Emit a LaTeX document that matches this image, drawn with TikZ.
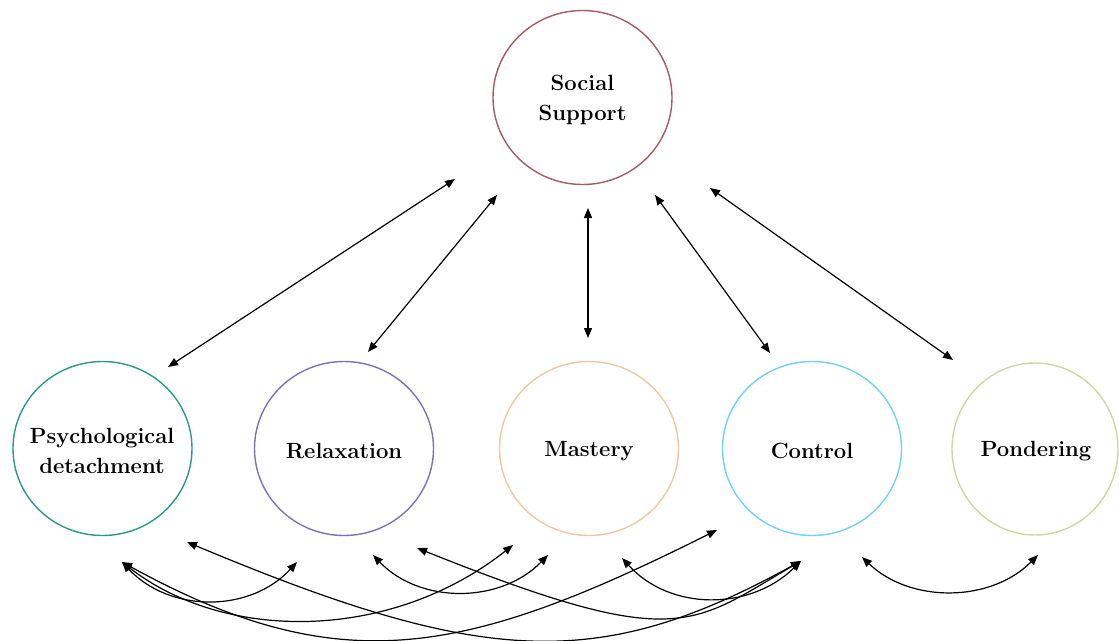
\documentclass[tikz,border=0pt]{standalone}
\usetikzlibrary{arrows.meta,shapes.geometric}
\definecolor{ssc}{RGB}{165,90,100}
\definecolor{pdc}{RGB}{40,155,135}
\definecolor{rxc}{RGB}{120,115,185}
\definecolor{msc}{RGB}{240,200,160}
\definecolor{ctc}{RGB}{110,210,250}
\definecolor{pnc}{RGB}{205,215,160}
\tikzset{
  bub/.style={ellipse,draw,line width=1.4pt,minimum width=179pt,minimum height=174pt,inner sep=0pt},
  lab/.style={inner sep=0pt,align=center,font=\fontsize{22}{30}\selectfont\bfseries},
  link/.style={line width=1.2pt,{Triangle[length=10pt,width=8pt]}-{Triangle[length=10pt,width=8pt]}}
}
\begin{document}
\begin{tikzpicture}[x=1pt,y=-1pt]
\useasboundingbox (0,0) rectangle (1119,640);
\node[bub,draw=ssc] (ss) at (582.5,97.5) {};
\node[bub,draw=pdc] (pd) at (102.5,448.5) {};
\node[bub,draw=rxc] (rx) at (344,448.5) {};
\node[bub,draw=msc] (ms) at (589,448.5) {};
\node[bub,draw=ctc] (ct) at (812,448.5) {};
\node[bub,draw=pnc,minimum width=166pt,minimum height=172pt] (pn) at (1035,449) {};
\node[lab] (ssT) at (582.5,100) {Social\\Support};
\node[lab] (pdT) at (102,451) {Psychological\\detachment};
\node[lab] (rxT) at (344,451) {Relaxation};
\node[lab] (msT) at (589,451) {Mastery};
\node[lab] (ctT) at (812,451) {Control};
\node[lab] (pnT) at (1036,451) {Pondering};
% straight connector ends
\coordinate (s1) at (455,179); \coordinate (p1) at (168,367);
\coordinate (s2) at (497,195); \coordinate (r1) at (368,352);
\coordinate (s3) at (588,208); \coordinate (m1) at (588,338);
\coordinate (s4) at (655,195); \coordinate (c1) at (770,353);
\coordinate (s5) at (710,188); \coordinate (n1) at (953,360);
\draw[link] (s1) -- (p1);
\draw[link] (s2) -- (r1);
\draw[link] (s3) -- (m1);
\draw[link] (s4) -- (c1);
\draw[link] (s5) -- (n1);
% curved connector ends
\coordinate (pdA) at (122,562);
\coordinate (pdB) at (187,542);
\coordinate (rxA) at (297,562);
\coordinate (rxB) at (373,555);
\coordinate (rxC) at (417,548);
\coordinate (msA) at (513,545);
\coordinate (msB) at (548,555);
\coordinate (msC) at (622,558);
\coordinate (ctA) at (717,530);
\coordinate (ctB) at (801,561);
\coordinate (ctC) at (862,557);
\coordinate (pnA) at (1038,555);
\draw[link] (pdA) .. controls (170,613) and (250,613) .. (rxA);
\draw[link] (pdA) .. controls (225,642) and (390,642) .. (msA);
\draw[link] (pdA) .. controls (342,683) and (467,655) .. (ctA);
\draw[link] (pdB) .. controls (487,668) and (601,671) .. (ctB);
\draw[link] (rxB) .. controls (420,604) and (500,604) .. (msB);
\draw[link] (rxC) .. controls (677,652) and (690,626) .. (ctB);
\draw[link] (msC) .. controls (670,611) and (750,611) .. (ctB);
\draw[link] (ctC) .. controls (910,603) and (990,603) .. (pnA);
\end{tikzpicture}
\end{document}
